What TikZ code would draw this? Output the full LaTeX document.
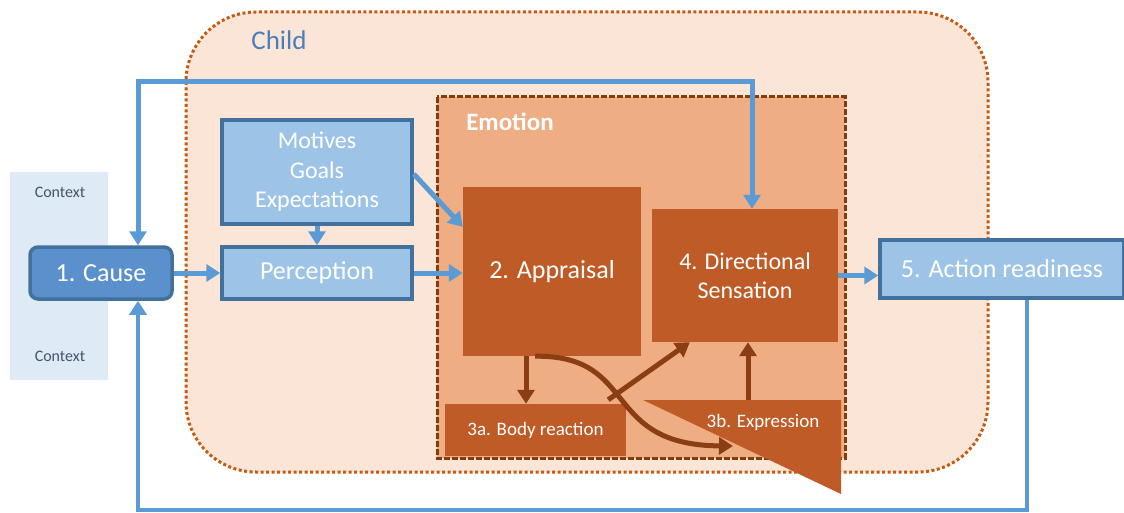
\documentclass[tikz,border=0pt]{standalone}
\usepackage{fontspec}
\setmainfont{Carlito}
\usetikzlibrary{arrows.meta}

\definecolor{childfill}{HTML}{FBE5D6}
\definecolor{childline}{HTML}{C55A11}
\definecolor{emofill}{HTML}{EEAD83}
\definecolor{emoline}{HTML}{843C0C}
\definecolor{boxbrown}{HTML}{BF5B27}
\definecolor{arrowbrown}{HTML}{8B3E14}
\definecolor{lightbox}{HTML}{9DC3E6}
\definecolor{darkbox}{HTML}{5A90CC}
\definecolor{boxline}{HTML}{41719C}
\definecolor{arrowblue}{HTML}{5B9BD5}
\definecolor{contextbg}{HTML}{DEEAF6}
\definecolor{contexttext}{HTML}{44546A}
\definecolor{childtext}{HTML}{4A7EBB}

\begin{document}
\begin{tikzpicture}[x=1pt,y=-1pt,
  >={Triangle[length=14pt,width=17pt]},
  bluebox/.style={draw=boxline,line width=3.5pt,fill=lightbox,text=white,inner sep=0pt,
    font=\fontsize{24}{29.5}\selectfont,align=center},
  brownbox/.style={fill=boxbrown,text=white,inner sep=0pt,
    font=\fontsize{24}{29}\selectfont,align=center},
  bluelink/.style={draw=arrowblue,line width=5pt},
  brownlink/.style={draw=arrowbrown,line width=5pt}]
\useasboundingbox (0,0) rectangle (1124,513);
% context strip
\fill [contextbg] (10,172) rectangle (108,380);
\node [text=contexttext,font=\fontsize{16}{18}\selectfont] (ctxtop) at (60,192) {Context};
\node [text=contexttext,font=\fontsize{16}{18}\selectfont] (ctxbot) at (60,356) {Context};
% child and emotion areas
\draw [childline,fill=childfill,line width=3pt,dash pattern=on 3pt off 2.5pt,rounded corners=70pt]
  (186,12) rectangle (988,472);
\node [text=childtext,font=\fontsize{27}{30}\selectfont] (child) at (279,40) {Child};
\draw [emoline,fill=emofill,line width=3pt,dash pattern=on 6pt off 2pt] (437,97) rectangle (845,458);
\node [text=white,font=\fontsize{25}{28}\bfseries] (emotion) at (510,122) {Emotion};
% blue boxes
\node [bluebox,fill=darkbox,rounded corners=8pt,minimum width=142pt,minimum height=52pt,
  font=\fontsize{26}{30}\selectfont] (cause) at (101,273) {1. Cause};
\node [bluebox,minimum width=190pt,minimum height=104pt] (motives) at (317,172) {Motives\\Goals\\Expectations};
\node [bluebox,minimum width=190pt,minimum height=52pt,font=\fontsize{26}{30}\selectfont] (perc) at (317,273) {Perception};
\node [bluebox,minimum width=244pt,minimum height=58pt,font=\fontsize{26}{30}\selectfont] (action) at (1002,269) {5. Action readiness};
% brown boxes
\node [brownbox,minimum width=178pt,minimum height=169pt,font=\fontsize{26}{30}\selectfont] (appr) at (552,271.5) {2. Appraisal};
\node [brownbox,minimum width=186pt,minimum height=133pt] (dir) at (745,275.5) {4. Directional\\Sensation};
\node [brownbox,minimum width=181pt,minimum height=52pt,font=\fontsize{19}{22}\selectfont] (body) at (535.5,430) {3a. Body reaction};
\draw [brownlink,->] (appr.south) ++(-17pt,0) coordinate (curvestart)
  .. controls (640,355) and (600,445) .. (733,446);
\fill [boxbrown] (643,400) -- (841,400) -- (841,494) -- cycle;
\node [text=white,font=\fontsize{19}{22}\selectfont] (expr) at (763,422) {3b. Expression};
\coordinate (exptop) at (748,400);
% brown arrows
\draw [brownlink,->] ([xshift=-26pt]appr.south) -- ([xshift=-26pt]appr.south |- body.north);
\draw [brownlink,->] ([xshift=-18pt,yshift=4pt]body.north east) -- ([xshift=38pt]dir.south west);
\draw [brownlink,->] (exptop) -- (exptop |- dir.south);
% blue arrows
\draw [bluelink,->] (cause) -- (perc);
\draw [bluelink,->] (motives) -- (perc);
\draw [bluelink,->] (perc.east) -- (perc.east -| appr.west);
\draw [bluelink,->] ([yshift=-2pt]motives.east) -- ([yshift=-40pt]appr.north west);
\draw [bluelink,->] (dir.east) -- (dir.east -| action.west);
\coordinate (topleft) at (138,82);
\coordinate (topright) at (752,82);
\draw [bluelink,<->] ([xshift=37pt]cause.north) -- (topleft) -- (topright) -- (topright |- dir.north);
\coordinate (botright) at (1027,510);
\coordinate (botleft) at (138,510);
\draw [bluelink,line width=3.5pt,->] (botright |- action.south) -- (botright) -- (botleft) -- ([xshift=37pt]cause.south);
\end{tikzpicture}
\end{document}
